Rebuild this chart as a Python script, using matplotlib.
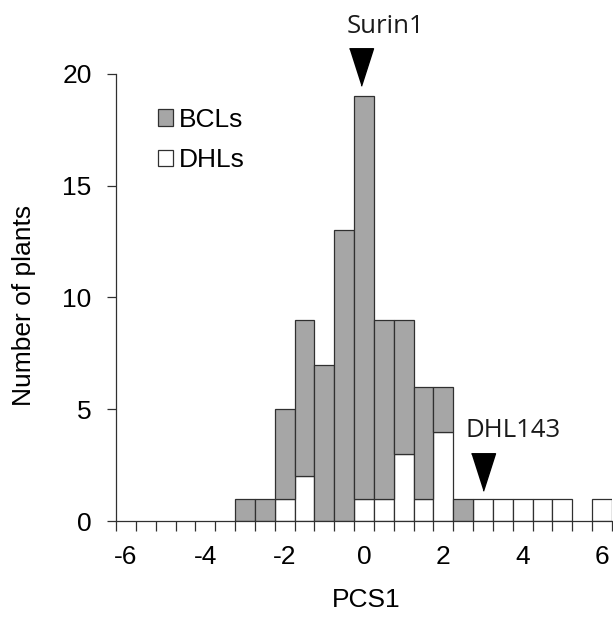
import matplotlib
matplotlib.use('Agg')
import matplotlib.pyplot as plt
import numpy as np
from matplotlib.patches import Patch
from matplotlib.markers import MarkerStyle

plt.rcParams['font.family'] = ['Liberation Sans', 'DejaVu Sans']

# PCS1 bin centres (width 0.5)
pcs1 = [-6.0, -5.5, -5.0, -4.5, -4.0, -3.5, -3.0, -2.5, -2.0, -1.5, -1.0, -0.5,
        0.0, 0.5, 1.0, 1.5, 2.0, 2.5, 3.0, 3.5, 4.0, 4.5, 5.0, 5.5, 6.0]
dhls = [0, 0, 0, 0, 0, 0, 0, 0, 1, 2, 0, 0,
        1, 1, 3, 1, 4, 0, 1, 1, 1, 1, 1, 0, 1]
bcls = [0, 0, 0, 0, 0, 0, 1, 1, 4, 7, 7, 13,
        18, 8, 6, 5, 2, 1, 0, 0, 0, 0, 0, 0, 0]

mark_names = ['Surin1', 'DHL143']
mark_x = [-0.08, 3.0]
mark_y = [20.3, 2.2]

x = np.array(pcs1)
d = np.array(dhls)
b = np.array(bcls)

fig = plt.figure(figsize=(6.13, 6.19), dpi=100)
ax = fig.add_axes([0.1892, 0.1583, 0.8092, 0.7222])

edge = '#303030'
fs = 19
m = d > 0
ax.bar(x[m], d[m], width=0.5, color='white', edgecolor=edge, linewidth=0.9)
m = b > 0
ax.bar(x[m], b[m], bottom=d[m], width=0.5, color='#A6A6A6', edgecolor=edge, linewidth=0.9)

ax.set_xlim(-6.25, 6.25)
ax.set_ylim(0, 20)
ax.set_xticks(np.arange(-6, 7, 2))
ax.set_xticks(np.arange(-6.25, 6.3, 0.5), minor=True)
ax.set_yticks([0, 5, 10, 15, 20])
ax.tick_params(axis='x', which='major', length=0, pad=17, labelsize=fs)
ax.tick_params(axis='x', which='minor', length=7.5, width=0.9, color=edge, direction='out')
ax.tick_params(axis='y', length=6.5, width=0.9, color=edge, pad=11, labelsize=fs)
ax.set_xticklabels(['-6', '-4', '-2', '0', '2', '4', '6'])

for s in ['top', 'right']:
    ax.spines[s].set_visible(False)
for s in ['left', 'bottom']:
    ax.spines[s].set_color(edge)
    ax.spines[s].set_linewidth(0.9)

fig.text(24 / 613, 1 - 305 / 619, 'Number of plants', rotation=90,
         ha='center', va='center', fontsize=fs)
fig.text(366 / 613, 1 - 600 / 619, 'PCS1', ha='center', va='center', fontsize=fs)

# marker arrows
tri = MarkerStyle([(-0.32, 0.5), (0.32, 0.5), (0, -0.5)], joinstyle='round')
ax.plot(mark_x, mark_y, linestyle='', marker=tri, markersize=27,
        color='black', clip_on=False)
ax.text(-0.43, 21.83, mark_names[0], fontsize=18.5, family=['Open Sans', 'DejaVu Sans'],
        ha='left', va='baseline', color='#1a1a1a', clip_on=False)
ax.text(2.55, 3.76, mark_names[1], fontsize=18.5, family=['Open Sans', 'DejaVu Sans'],
        ha='left', va='baseline', color='#1a1a1a')

handles = [Patch(facecolor='#A6A6A6', edgecolor=edge, linewidth=0.9, label='BCLs'),
           Patch(facecolor='white', edgecolor=edge, linewidth=0.9, label='DHLs')]
ax.legend(handles=handles, loc='upper left', bbox_to_anchor=(0.063, 0.948),
          frameon=False, fontsize=fs, handlelength=0.58, handleheight=0.58,
          handletextpad=0.22, labelspacing=0.62, borderaxespad=0)

fig.savefig('out.png', dpi=100, facecolor='white')
